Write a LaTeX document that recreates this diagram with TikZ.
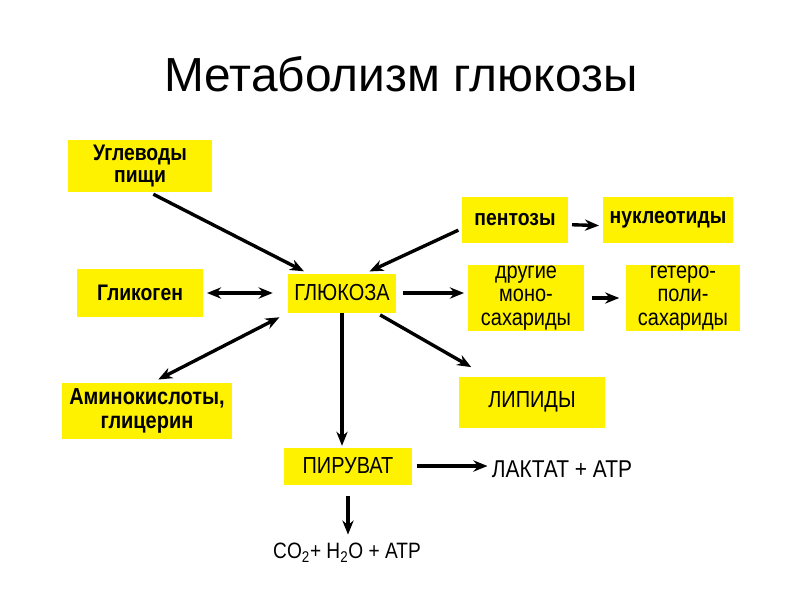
\documentclass[tikz,border=0pt]{standalone}
\usepackage{fontspec}
\setmainfont{Liberation Sans}[FakeStretch=0.86]
\newfontfamily\titlefont{Liberation Sans}
\usetikzlibrary{arrows.meta}

\begin{document}
\begin{tikzpicture}[
        x=0.025cm, y=-0.025cm,
        box/.style={
            fill=yellow,
            align=center,
            inner sep=2pt,
            font=\fontsize{16}{15.5}\selectfont\bfseries
        },
        capsbox/.style={box, font=\fontsize{16.5}{15}\selectfont},
        widebox/.style={box, inner sep=0.5pt, font=\fontsize{16.5}{16.5}\selectfont},
        plaintext/.style={inner sep=2pt, font=\fontsize{16.5}{15}\selectfont},
        arrow/.style={-{Stealth[length=10pt,width=8pt]}, line width=2.4pt, shorten >=3pt, shorten <=3pt},
        twoway/.style={arrow, {Stealth[length=10pt,width=8pt]}-{Stealth[length=10pt,width=8pt]}}
    ]

    \useasboundingbox (0,0) rectangle (800,600);

    \node (title) at (401,74) {\titlefont\fontsize{34}{36}\selectfont Метаболизм глюкозы};

    \node[box, minimum width=3.6cm, minimum height=1.3cm] (food) at (140,166) {Углеводы\\пищи};
    \node[box, minimum width=3.125cm, minimum height=1.2cm] (glyc) at (140,293) {Гликоген};
    \node[capsbox, minimum width=2.675cm, minimum height=0.975cm] (gluc) at (342,293) {ГЛЮКОЗА};
    \node[box, minimum width=2.625cm, minimum height=1.15cm] (pent) at (515,220) {пентозы};
    \node[box, minimum width=3.225cm, minimum height=1.15cm] (nucl) at (668,220) {нуклеотиды};
    \node[widebox, minimum width=2.875cm, minimum height=1.5cm] (mono) at (526,298) {другие\\моно-\\сахариды};
    \node[widebox, minimum width=2.825cm, minimum height=1.525cm] (hetero) at (683,298) {гетеро-\\поли-\\сахариды};
    \node[box, font=\fontsize{16.5}{16.5}\selectfont\bfseries, minimum width=4.225cm, minimum height=1.4cm] (amino) at (147,411) {Аминокислоты,\\глицерин};
    \node[capsbox, minimum width=3.625cm, minimum height=1.275cm] (lip) at (532,402) {ЛИПИДЫ};
    \node[capsbox, minimum width=3.175cm, minimum height=0.925cm] (pyr) at (348,466) {ПИРУВАТ};
    \node[plaintext, font=\fontsize{17.3}{15}\selectfont] (lact) at (562,469) {ЛАКТАТ + ATP};
    \node[plaintext, font=\fontsize{15.8}{15}\selectfont] (co2) at (347,553) {CO\textsubscript{2}+ H\textsubscript{2}O + ATP};

    \draw[arrow] (food.290) -- (gluc.150);
    \draw[arrow] (pent.189) -- (gluc.40);
    \draw[arrow] (pent.-5) -- (nucl.185);
    \draw[twoway, shorten >=11pt] (glyc.east) -- (gluc.west);
    \draw[arrow, shorten <=5pt] (gluc.east) -- (gluc.east -| mono.west);
    \draw[arrow, shorten <=6pt, shorten >=5pt] (mono.east) -- (hetero.west);
    \draw[twoway, shorten <=5pt, shorten >=7pt] (amino.80) -- (gluc.south west);
    \draw[arrow, shorten >=13pt] (gluc) -- (lip);
    \draw[arrow, shorten >=1pt, shorten <=0pt] (gluc.south) -- (gluc.south |- pyr.north);
    \draw[arrow, shorten <=3.5pt, shorten >=1pt] (pyr.east) -- (pyr.east -| lact.west);
    \draw[arrow, shorten <=8pt, shorten >=4pt] (pyr.south) -- (pyr.south |- co2.north);

\end{tikzpicture}
\end{document}
